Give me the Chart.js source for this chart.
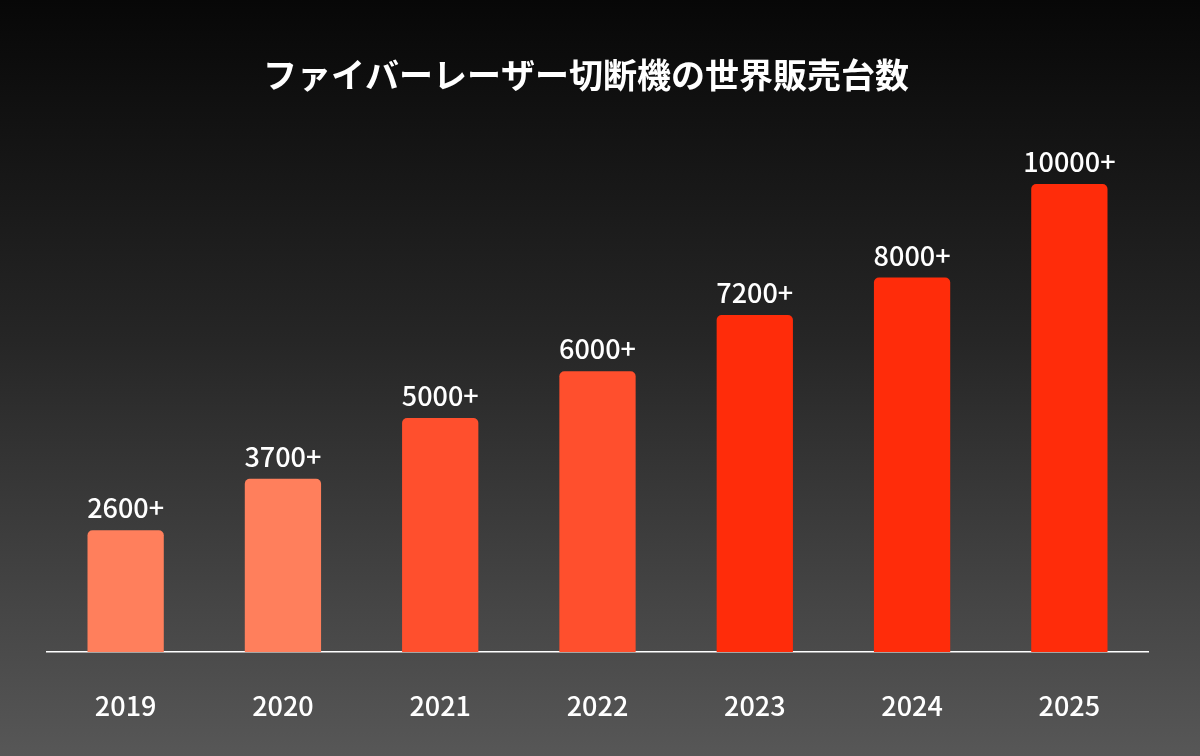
<!DOCTYPE html>
<html lang="ja">
<head>
  <meta charset="UTF-8" />
  <title>ファイバーレーザー切断機の世界販売台数</title>
  <script src="https://cdn.jsdelivr.net/npm/chart.js"></script>
  <style>
    html, body {
      margin: 0;
      padding: 0;
      width: 1200px;
      height: 756px;
      overflow: hidden;
      background: linear-gradient(to bottom, #070707 0%, #262626 45%, #575757 100%);
    }
    canvas { display: block; }
  </style>
</head>
<body>
  <canvas id="salesChart" width="1200" height="756"></canvas>

  <script>
    const years = ['2019', '2020', '2021', '2022', '2023', '2024', '2025'];
    const units = [2600, 3700, 5000, 6000, 7200, 8000, 10000];
    const unitLabels = ['2600+', '3700+', '5000+', '6000+', '7200+', '8000+', '10000+'];
    const barColors = ['#ff7f5c', '#ff7f5c', '#ff4f2d', '#ff4f2d', '#ff2c0a', '#ff2c0a', '#ff2c0a'];
    const title = 'ファイバーレーザー切断機の世界販売台数';

    const fontFamily = '"Noto Sans CJK JP", "Noto Sans", sans-serif';

    // title + value labels drawn on top of the bars
    const overlay = {
      id: 'overlay',
      afterDatasetsDraw(chart) {
        const ctx = chart.ctx;
        ctx.save();
        ctx.fillStyle = '#ffffff';
        ctx.textAlign = 'center';
        ctx.textBaseline = 'middle';
        ctx.font = `bold 34px ${fontFamily}`;
        ctx.fillText(title, 586, 75);
        ctx.font = `500 27px ${fontFamily}`;
        ctx.textBaseline = 'alphabetic';
        chart.getDatasetMeta(0).data.forEach((bar, i) => {
          ctx.fillText(unitLabels[i], bar.x, bar.y - 12);
        });
        ctx.restore();
      }
    };

    new Chart(document.getElementById('salesChart'), {
      type: 'bar',
      data: {
        labels: years,
        datasets: [{
          data: units,
          backgroundColor: barColors,
          borderRadius: { topLeft: 5, topRight: 5 },
          borderSkipped: 'bottom',
          categoryPercentage: 1,
          barPercentage: 0.485
        }]
      },
      options: {
        responsive: false,
        animation: false,
        devicePixelRatio: 1,
        layout: { padding: { top: 184, left: 47, right: 52, bottom: 0 } },
        plugins: { legend: { display: false }, tooltip: { enabled: false } },
        scales: {
          x: {
            grid: { display: false },
            border: { display: true, color: '#ffffff', width: 1.5 },
            ticks: { color: '#ffffff', padding: 30, font: { family: fontFamily, size: 27, weight: '500' } },
            afterFit: s => { s.height = 104; }
          },
          y: {
            display: false,
            min: 0,
            max: 10000
          }
        }
      },
      plugins: [overlay]
    });
  </script>
</body>
</html>
